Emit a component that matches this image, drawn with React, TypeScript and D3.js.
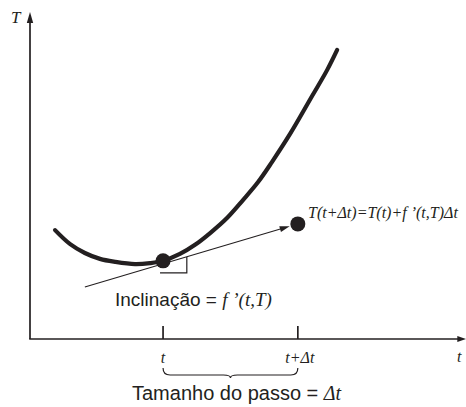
import React from "react";
import * as d3 from "d3";

// curve T(t) (data units)
const curveT = [0.58, 0.93, 1.27, 1.62, 1.97, 2.43, 2.78, 3.08, 3.47, 3.82, 4.17, 4.56, 4.93, 5.28, 5.6, 6.02, 6.53, 6.88, 7.11];
const curveY = [3.33, 2.9, 2.63, 2.45, 2.36, 2.29, 2.32, 2.39, 2.6, 2.88, 3.24, 3.7, 4.25, 4.8, 5.41, 6.27, 7.43, 8.23, 8.84];

// Euler step
const stepT = [3.08, 6.2];
const stepY = [2.39, 3.52];
const tickLabels = ["t", "t+\u0394t"];
const tangentStart = [1.27, 1.59];
const boxT = [3.01, 3.63, 3.63];
const boxY = [2.02, 2.02, 2.51];
const axisMax = [10.1, 10];

const INK = "#231f20";
const SERIF = "'Liberation Serif', 'Times New Roman', serif";
const SANS = "'Liberation Sans', Arial, sans-serif";

const stepFormula = "T(t+\u0394t)=T(t)+f \u2019(t,T)\u0394t";
const slopeLabel = "Inclina\u00e7\u00e3o = ";
const slopeMath = "f \u2019(t,T)";
const stepLabel = "Tamanho do passo = ";
const stepMath = "\u0394t";

export default function App() {
  const W = 466, H = 407;
  const x = d3.scaleLinear().domain([0, 10]).range([30, 462]);
  const y = d3.scaleLinear().domain([0, 10]).range([339, 12]);

  const line = d3
    .line<number>()
    .x((_, i) => x(curveT[i]))
    .y((_, i) => y(curveY[i]))
    .curve(d3.curveCatmullRom.alpha(0.5));
  const curvePath = line(curveT) || "";

  const boxPath =
    d3.line<number>().x((_, i) => x(boxT[i])).y((_, i) => y(boxY[i]))(boxT) || "";

  const sx = x(tangentStart[0]), sy = y(tangentStart[1]);
  const ex0 = x(stepT[1]), ey0 = y(stepY[1]);
  const len = Math.hypot(ex0 - sx, ey0 - sy);
  const ux = (ex0 - sx) / len, uy = (ey0 - sy) / len;
  const r = 7.5;
  const ex = ex0 - ux * (r + 1), ey = ey0 - uy * (r + 1);

  const x0 = x(0), y0 = y(0);
  const xEnd = x(axisMax[0]);
  const yEnd = y(axisMax[1]);

  const bx1 = x(stepT[0]), bx2 = x(stepT[1]);
  const bm = (bx1 + bx2) / 2;
  const by = 368, bh = 10, bhh = 7, br = 7;
  const brace = `M${bx1},${by} Q${bx1},${by + bhh} ${bx1 + br},${by + bhh} L${bm - br},${by + bhh} Q${bm},${by + bhh} ${bm},${by + bh} Q${bm},${by + bhh} ${bm + br},${by + bhh} L${bx2 - br},${by + bhh} Q${bx2},${by + bhh} ${bx2},${by}`;

  return (
    <svg
      width={W}
      height={H}
      style={{ position: "absolute", left: 0, top: 0, background: "#fff" }}
    >
      <rect width={W} height={H} fill="#fff" />
      <line x1={x0} y1={y0} x2={x0} y2={yEnd + 8} stroke={INK} strokeWidth={1.7} />
      <path d={`M${x0},${yEnd} L${x0 - 3.2},${yEnd + 11} L${x0 + 3.2},${yEnd + 11} Z`} fill={INK} />
      <line x1={x0 - 0.8} y1={y0} x2={xEnd - 6} y2={y0} stroke={INK} strokeWidth={1.7} />
      <path d={`M${xEnd},${y0} L${xEnd - 9},${y0 - 3} L${xEnd - 9},${y0 + 3} Z`} fill={INK} />

      {stepT.map((t, i) => (
        <g key={i}>
          <line x1={x(t)} x2={x(t)} y1={y0} y2={y0 - 13} stroke={INK} strokeWidth={1.7} />
          <text
            x={x(t) + (i === 1 ? 2 : 0)}
            y={363}
            textAnchor="middle"
            fontFamily={SERIF}
            fontStyle="italic"
            fontSize={16}
            fill={INK}
          >
            {tickLabels[i]}
          </text>
        </g>
      ))}

      <path d={curvePath} fill="none" stroke={INK} strokeWidth={4.2} strokeLinecap="round" />

      <path d={boxPath} fill="none" stroke={INK} strokeWidth={1.2} />

      <line x1={sx} y1={sy} x2={ex - ux * 8} y2={ey - uy * 8} stroke={INK} strokeWidth={1.1} />
      <path
        d={`M${ex},${ey} L${ex - ux * 10 - uy * 3},${ey - uy * 10 + ux * 3} L${ex - ux * 10 + uy * 3},${ey - uy * 10 - ux * 3} Z`}
        fill={INK}
      />

      {stepT.map((t, i) => (
        <circle key={i} cx={x(t)} cy={y(stepY[i])} r={r} fill={INK} />
      ))}

      <path d={brace} fill="none" stroke={INK} strokeWidth={1.2} />

      <text x={11} y={23} fontFamily={SERIF} fontStyle="italic" fontSize={17} fill={INK}>
        T
      </text>
      <text x={457} y={362} fontFamily={SERIF} fontStyle="italic" fontSize={16} fill={INK}>
        t
      </text>
      <text x={308} y={218} fontFamily={SERIF} fontStyle="italic" fontSize={16} fill={INK}>
        {stepFormula}
      </text>
      <text x={115} y={306} fontFamily={SANS} fontSize={19} fill={INK}>
        {slopeLabel}
        <tspan fontFamily={SERIF} fontStyle="italic">
          {slopeMath}
        </tspan>
      </text>
      <text x={132} y={400} fontFamily={SANS} fontSize={20} fill={INK}>
        {stepLabel}
        <tspan fontFamily={SERIF} fontStyle="italic">
          {stepMath}
        </tspan>
      </text>
    </svg>
  );
}
